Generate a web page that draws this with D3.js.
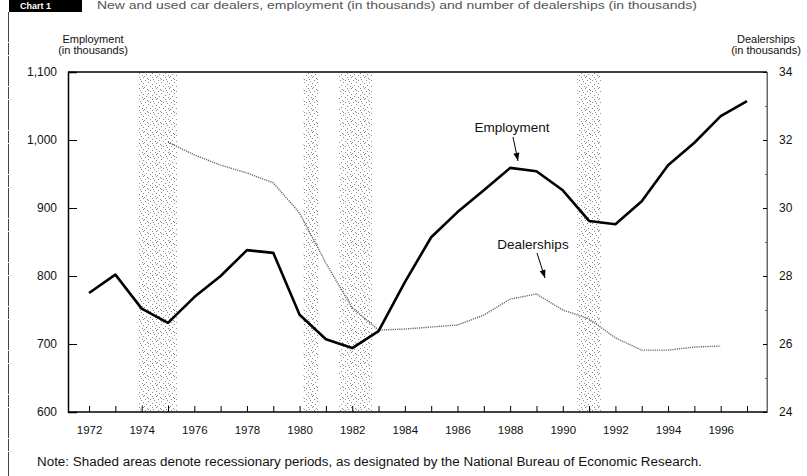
<!DOCTYPE html>
<html lang="en">
<head>
<meta charset="UTF-8">
<script src="https://cdn.jsdelivr.net/npm/d3@7"></script>
<title>Car dealers chart</title>
<style>
    body { margin: 0; background: white; }
    svg text { font-family: 'Liberation Sans', Arial, sans-serif; fill: #111; }
</style>
</head>
<body>
<div id="chart"></div>
<script>
    const years = d3.range(1972, 1998);
    const employment = [775, 802, 752, 731, 769, 800, 838, 834, 743, 707, 694, 719, 791,
        857, 894, 926, 959, 954, 926, 881, 876, 910, 963, 996, 1035, 1057];
    const dealerYears = d3.range(1975, 1997);
    const dealerships = [31.94, 31.56, 31.26, 31.03, 30.74, 29.85, 28.38, 27.06, 26.41, 26.44,
        26.5, 26.56, 26.85, 27.32, 27.47, 27.0, 26.74, 26.18, 25.82, 25.82, 25.91, 25.94];
    // recessions (start, end) in fractional years
    const recessions = [[1973.85, 1975.35], [1980.15, 1980.7], [1981.5, 1982.75], [1990.55, 1991.45]];
    const leftTicks = [600, 700, 800, 900, 1000, 1100];
    const rightTicks = [24, 26, 28, 30, 32, 34];
    const yearLabels = d3.range(1972, 1997, 2);

    const width = 807, height = 476;
    const plot = {left: 68, right: 767, top: 72, bottom: 412};
    const font = "'Liberation Sans', Arial, sans-serif";

    const svg = d3.select("#chart").append("svg")
        .attr("width", width)
        .attr("height", height);

    const x = d3.scaleLinear().domain([1971.2, 1997.76]).range([plot.left, plot.right]);
    const yL = d3.scaleLinear().domain([600, 1100]).range([plot.bottom, plot.top]);
    const yR = d3.scaleLinear().domain([24, 34]).range([plot.bottom, plot.top]);

    // stipple pattern for recession bands (scattered dots)
    const pat = svg.append("defs").append("pattern")
        .attr("id", "stipple")
        .attr("width", 13).attr("height", 11)
        .attr("patternUnits", "userSpaceOnUse");
    [[0, 0], [4, 1], [9, 0], [2, 3], [7, 3], [11, 4], [5, 5], [0, 6], [9, 7],
     [3, 8], [7, 9], [12, 9], [1, 10], [5, 2], [10, 2]].forEach(p => {
        pat.append("rect").attr("x", p[0]).attr("y", p[1])
            .attr("width", 1).attr("height", 1).attr("fill", "#8c8c8c");
    });

    // "Chart 1" box and title at the top edge
    svg.append("rect").attr("x", 9).attr("y", 0).attr("width", 73).attr("height", 12).attr("fill", "#000");
    svg.append("text").attr("x", 20).attr("y", 9).attr("font-size", 9).style("fill", "#fff")
        .attr("font-weight", "bold").text("Chart 1");
    svg.append("text").attr("x", 97).attr("y", 9).attr("font-size", 10).style("fill", "#555")
        .attr("textLength", 600).attr("lengthAdjust", "spacingAndGlyphs")
        .text("New and used car dealers, employment (in thousands) and number of dealerships (in thousands)");

    // left page border
    svg.append("line").attr("x1", 8.5).attr("x2", 8.5).attr("y1", 12).attr("y2", height)
        .attr("stroke", "#444").attr("stroke-width", 1).attr("stroke-dasharray", "30,1,12,1");

    svg.selectAll(".rec")
        .data(recessions)
        .enter()
        .append("rect")
        .attr("class", "rec")
        .attr("x", d => x(d[0]))
        .attr("y", plot.top)
        .attr("width", d => x(d[1]) - x(d[0]))
        .attr("height", plot.bottom - plot.top)
        .attr("fill", "url(#stipple)");

    // frame
    svg.append("line").attr("x1", plot.left).attr("x2", plot.right).attr("y1", plot.top).attr("y2", plot.top)
        .attr("stroke", "#000").attr("stroke-width", 1.5);
    svg.append("line").attr("x1", plot.right).attr("x2", plot.right).attr("y1", plot.top).attr("y2", plot.bottom)
        .attr("stroke", "#666").attr("stroke-width", 1);

    // left axis
    const leftAxis = svg.append("g")
        .attr("transform", `translate(${plot.left},0)`)
        .call(d3.axisLeft(yL).tickValues(leftTicks).tickSize(-9).tickPadding(11)
            .tickFormat(d3.format(",")));
    leftAxis.select(".domain").attr("stroke", "#000").attr("stroke-width", 1.5);
    leftAxis.selectAll("text").attr("font-size", 12).attr("font-family", font);

    // right axis with minor ticks
    const rightMinor = svg.append("g")
        .attr("transform", `translate(${plot.right},0)`)
        .call(d3.axisRight(yR).tickValues([25, 27, 29, 31, 33]).tickSize(-2).tickFormat(""));
    rightMinor.select(".domain").remove();
    rightMinor.selectAll("line").attr("stroke", "#666");
    const rightAxis = svg.append("g")
        .attr("transform", `translate(${plot.right},0)`)
        .call(d3.axisRight(yR).tickValues(rightTicks).tickSize(-4).tickPadding(12));
    rightAxis.select(".domain").attr("stroke", "#666");
    rightAxis.selectAll("text").attr("font-size", 12).attr("font-family", font);

    // bottom axis
    const bottomTicks = svg.append("g")
        .attr("transform", `translate(0,${plot.bottom})`)
        .call(d3.axisBottom(x).tickValues(years).tickSize(-6).tickFormat(""));
    bottomTicks.select(".domain").remove();
    svg.append("line").attr("x1", plot.left).attr("x2", plot.right).attr("y1", plot.bottom).attr("y2", plot.bottom)
        .attr("stroke", "#000").attr("stroke-width", 1.5);
    const bottomLabels = svg.append("g")
        .attr("transform", `translate(0,${plot.bottom})`)
        .call(d3.axisBottom(x).tickValues(yearLabels).tickSize(0).tickPadding(14).tickFormat(d3.format("d")));
    bottomLabels.select(".domain").remove();
    bottomLabels.selectAll("text").attr("font-size", 11.5).attr("font-family", font);

    // axis titles
    svg.append("text").attr("x", 93).attr("y", 43).attr("text-anchor", "middle").attr("font-size", 11).text("Employment");
    svg.append("text").attr("x", 93).attr("y", 54).attr("text-anchor", "middle").attr("font-size", 11).text("(in thousands)");
    svg.append("text").attr("x", 766).attr("y", 43).attr("text-anchor", "middle").attr("font-size", 11).text("Dealerships");
    svg.append("text").attr("x", 766).attr("y", 54).attr("text-anchor", "middle").attr("font-size", 11).text("(in thousands)");

    // lines
    const dealerLine = d3.line().x((d, i) => x(dealerYears[i])).y(d => yR(d));
    svg.append("path")
        .attr("d", dealerLine(dealerships))
        .attr("fill", "none")
        .attr("stroke", "#666")
        .attr("stroke-width", 1.4)
        .attr("stroke-dasharray", "1.2,1");

    const empLine = d3.line().x((d, i) => x(years[i])).y(d => yL(d));
    svg.append("path")
        .attr("d", empLine(employment))
        .attr("fill", "none")
        .attr("stroke", "#000")
        .attr("stroke-width", 2.6)
        .attr("stroke-linejoin", "round");

    // annotations
    const arrow = (x1, y1, x2, y2) => {
        svg.append("line").attr("x1", x1).attr("y1", y1).attr("x2", x2).attr("y2", y2)
            .attr("stroke", "#000").attr("stroke-width", 1);
        const a = Math.atan2(y2 - y1, x2 - x1);
        const s = 8, w = 3;
        const p = [[x2, y2],
            [x2 - s * Math.cos(a) + w * Math.sin(a), y2 - s * Math.sin(a) - w * Math.cos(a)],
            [x2 - s * Math.cos(a) - w * Math.sin(a), y2 - s * Math.sin(a) + w * Math.cos(a)]];
        svg.append("path").attr("d", "M" + p.join("L") + "Z").attr("fill", "#000");
    };
    svg.append("text").attr("x", 512).attr("y", 132).attr("text-anchor", "middle").attr("font-size", 13.5).text("Employment");
    arrow(513, 137, 518, 161);
    svg.append("text").attr("x", 533).attr("y", 249).attr("text-anchor", "middle").attr("font-size", 13.5).text("Dealerships");
    arrow(537, 253, 545, 278);

    // note
    svg.append("text").attr("x", 37).attr("y", 466).attr("font-size", 12)
        .attr("textLength", 665).attr("lengthAdjust", "spacingAndGlyphs")
        .text("Note:  Shaded areas denote recessionary periods, as designated by the National Bureau of Economic Research.");
</script>
</body>
</html>
